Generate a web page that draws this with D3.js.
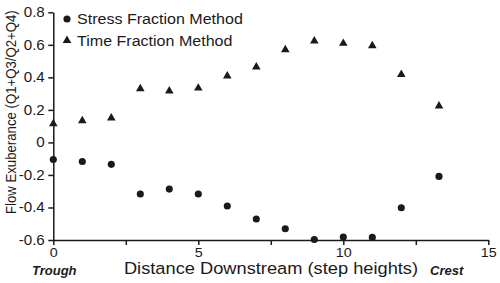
<!DOCTYPE html>
<html>
  <head>
    <script src="https://d3js.org/d3.v7.min.js"></script>
    <style>
      body { margin: 0; background-color: white; }
      svg text { font-family: Arial, 'Liberation Sans', sans-serif; fill: #1a1a1a; }
    </style>
  </head>
  <body>
    <svg id="canvas" width="500" height="283"></svg>
    <script>
      // distance downstream (step heights)
      const distance = [0, 1, 2, 3, 4, 5, 6, 7, 8, 9, 10, 11, 12, 13.3]
      // flow exuberance by method
      const stressFraction = [-0.105, -0.117, -0.135, -0.317, -0.287, -0.317, -0.391, -0.471, -0.531, -0.597, -0.582, -0.584, -0.402, -0.209]
      const timeFraction = [0.121, 0.14, 0.156, 0.336, 0.322, 0.34, 0.414, 0.47, 0.576, 0.63, 0.615, 0.601, 0.424, 0.23]
      const xTicks = [0, 2.5, 5, 7.5, 10, 12.5, 15]
      const yTicks = [-0.6, -0.4, -0.2, 0, 0.2, 0.4, 0.6, 0.8]

      const ink = '#1a1a1a'
      // the original figure's type is a little wider than it is tall
      const stretch = 1.1
      let svg = d3.select('#canvas')

      let x = d3.scaleLinear().domain([0, 15]).range([53.3, 488.3])
      let y = d3.scaleLinear().domain([-0.6, 0.8]).range([240, 12.3])

      // axes
      let xAxis = svg.append('g')
        .attr('transform', `translate(0, ${y(-0.6)})`)
        .call(d3.axisBottom(x).tickValues(xTicks)
          .tickFormat(d => d % 5 === 0 ? d : '')
          .tickSize(5).tickSizeOuter(0).tickPadding(3))
      xAxis.selectAll('text')
        .attr('font-size', 13)
        .attr('transform', `scale(${stretch}, 1)`)

      let yAxis = svg.append('g')
        .attr('transform', `translate(${x(0)}, 0)`)
        .call(d3.axisLeft(y).tickValues(yTicks)
          .tickFormat(d => d === 0 ? '0' : d3.format('.1f')(d).replace('−', '-'))
          .tickSize(5).tickSizeOuter(0).tickPadding(3))
      yAxis.selectAll('text')
        .attr('font-size', 13.8)
        .attr('x', -8.5 / stretch)
        .attr('transform', `scale(${stretch}, 1)`)

      svg.selectAll('.domain, .tick line')
        .attr('stroke', ink)
        .attr('stroke-width', 1.5)
      svg.selectAll('.tick text').style('fill', ink)

      // axis titles
      svg.append('text')
        .attr('transform', `translate(16, ${(y(0.8) + y(-0.6)) / 2 - 14}) rotate(-90) scale(1, ${stretch})`)
        .attr('text-anchor', 'middle')
        .attr('font-size', 13.2)
        .text('Flow Exuberance (Q1+Q3/Q2+Q4)')

      svg.append('text')
        .attr('transform', `translate(271, 273.5) scale(${stretch}, 1)`)
        .attr('text-anchor', 'middle')
        .attr('font-size', 16.6)
        .text('Distance Downstream (step heights)')

      svg.append('text')
        .attr('x', 32)
        .attr('y', 275)
        .attr('font-size', 13)
        .attr('font-weight', 'bold')
        .attr('font-style', 'italic')
        .text('Trough')

      svg.append('text')
        .attr('x', 430)
        .attr('y', 275)
        .attr('font-size', 13)
        .attr('font-weight', 'bold')
        .attr('font-style', 'italic')
        .text('Crest')

      const circle = d3.symbol().type(d3.symbolCircle).size(40)
      const triangle = d3.symbol().type(d3.symbolTriangle).size(32)

      // series
      svg.append('g').selectAll('path')
        .data(distance.map((d, i) => [d, stressFraction[i]]))
        .enter()
        .append('path')
          .attr('d', circle)
          .attr('fill', ink)
          .attr('transform', d => `translate(${x(d[0])}, ${y(d[1])})`)

      svg.append('g').selectAll('path')
        .data(distance.map((d, i) => [d, timeFraction[i]]))
        .enter()
        .append('path')
          .attr('d', triangle)
          .attr('fill', ink)
          .attr('transform', d => `translate(${x(d[0])}, ${y(d[1]) + 1})`)

      // legend
      const legend = [
        { label: 'Stress Fraction Method', shape: circle, cy: 19 },
        { label: 'Time Fraction Method', shape: triangle, cy: 40.5 }
      ]
      let lg = svg.append('g').selectAll('g').data(legend).enter().append('g')
      lg.append('path')
        .attr('d', d => d.shape())
        .attr('fill', ink)
        .attr('transform', d => `translate(67, ${d.cy})`)
      lg.append('text')
        .attr('transform', d => `translate(77, ${d.cy + 5}) scale(${stretch}, 1)`)
        .attr('font-size', 14.6)
        .text(d => d.label)
    </script>
  </body>
</html>
